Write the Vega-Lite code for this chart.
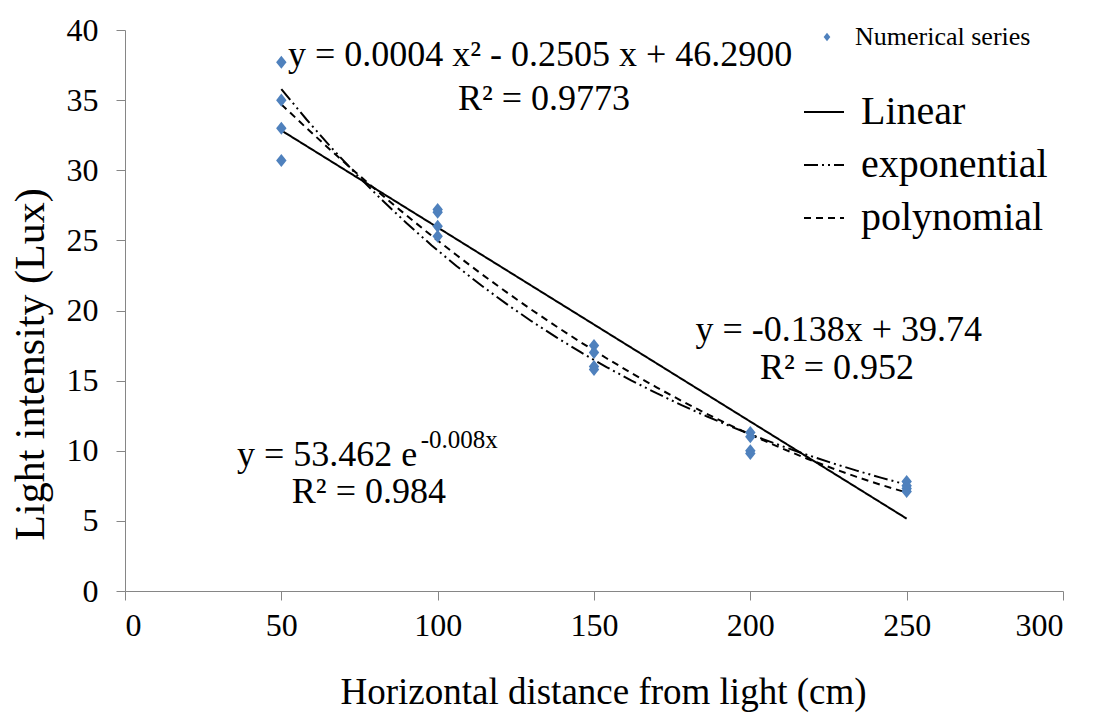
{
  "$schema": "https://vega.github.io/schema/vega-lite/v6.json",
  "width": 938,
  "height": 561,
  "autosize": {"type": "none"},
  "padding": {"left": 125, "top": 30, "right": 31, "bottom": 125},
  "background": "white",
  "config": {
    "view": {"stroke": null},
    "font": "Liberation Serif",
    "axis": {
      "grid": false,
      "domainColor": "#868686",
      "tickColor": "#868686",
      "tickSize": 9,
      "labelFont": "Liberation Serif",
      "labelFontSize": 32,
      "labelColor": "black",
      "titleFont": "Liberation Serif",
      "titleFontSize": 37,
      "titleFontWeight": "normal",
      "titleColor": "black"
    },
    "legend": {"labelFont": "Liberation Serif", "labelColor": "black", "padding": 0, "labelLimit": 0}
  },
  "datasets": {
    "obs": [
      {"dist": 50, "light": 37.7}, {"dist": 50, "light": 35.0}, {"dist": 50, "light": 33.0}, {"dist": 50, "light": 30.7},
      {"dist": 100, "light": 27.2}, {"dist": 100, "light": 27.0}, {"dist": 100, "light": 26.0}, {"dist": 100, "light": 25.3},
      {"dist": 150, "light": 17.5}, {"dist": 150, "light": 17.0}, {"dist": 150, "light": 16.0}, {"dist": 150, "light": 15.8},
      {"dist": 200, "light": 11.3}, {"dist": 200, "light": 11.0}, {"dist": 200, "light": 10.0}, {"dist": 200, "light": 9.8},
      {"dist": 250, "light": 7.8}, {"dist": 250, "light": 7.5}, {"dist": 250, "light": 7.3}, {"dist": 250, "light": 7.1}
    ],
    "note": [{"n": 1}]
  },
  "layer": [
    {
      "data": {"name": "obs"},
      "transform": [{"regression": "light", "on": "dist", "method": "linear"}],
      "mark": {"type": "line", "color": "black", "strokeWidth": 2},
      "encoding": {
        "x": {
          "field": "dist", "type": "quantitative",
          "scale": {"domain": [0, 300], "nice": false, "zero": false},
          "axis": {"values": [0, 50, 100, 150, 200, 250, 300], "labelPadding": 10,
                   "title": "Horizontal distance from light (cm)", "titleX": 478, "titleY": 101, "titleBaseline": "middle"}
        },
        "y": {
          "field": "light", "type": "quantitative",
          "scale": {"domain": [0, 40], "nice": false},
          "axis": {"values": [0, 5, 10, 15, 20, 25, 30, 35, 40], "labelPadding": 18,
                   "title": "Light intensity (Lux)", "titleFontSize": 42, "titleX": -95, "titleY": 334, "titleBaseline": "middle", "titleAlign": "center", "titleAngle": -90}
        },
        "strokeDash": {
          "datum": "Linear", "type": "nominal",
          "scale": {"domain": ["Linear", "exponential", "polynomial"], "range": [[1, 0], [14, 4, 2, 4, 2, 4], [7, 5]]},
          "legend": {"orient": "none", "legendX": 678, "legendY": 61, "title": null, "labelFontSize": 40,
                     "symbolType": "stroke", "symbolSize": 1600, "symbolStrokeWidth": 2, "symbolStrokeColor": "black",
                     "rowPadding": 12, "labelOffset": 16}
        }
      }
    },
    {
      "data": {"name": "obs"},
      "transform": [{"regression": "light", "on": "dist", "method": "exp"}],
      "mark": {"type": "line", "color": "black", "strokeWidth": 2},
      "encoding": {
        "x": {"field": "dist", "type": "quantitative"},
        "y": {"field": "light", "type": "quantitative"},
        "strokeDash": {"datum": "exponential", "type": "nominal"}
      }
    },
    {
      "data": {"name": "obs"},
      "transform": [{"regression": "light", "on": "dist", "method": "poly", "order": 2}],
      "mark": {"type": "line", "color": "black", "strokeWidth": 2},
      "encoding": {
        "x": {"field": "dist", "type": "quantitative"},
        "y": {"field": "light", "type": "quantitative"},
        "strokeDash": {"datum": "polynomial", "type": "nominal"}
      }
    },
    {
      "data": {"name": "obs"},
      "mark": {"type": "point", "filled": true, "opacity": 1, "size": 170, "color": "#4F81BD", "strokeWidth": 0},
      "encoding": {
        "x": {"field": "dist", "type": "quantitative"},
        "y": {"field": "light", "type": "quantitative"},
        "shape": {
          "datum": "Numerical series", "type": "nominal",
          "scale": {"domain": ["Numerical series"], "range": ["M-0.8,0L0,-1L0.8,0L0,1Z"]},
          "legend": {"orient": "none", "legendX": 689, "legendY": -6, "title": null, "labelFontSize": 26,
                     "symbolSize": 70, "symbolFillColor": "#4F81BD", "symbolStrokeColor": "#4F81BD", "symbolStrokeWidth": 0, "labelOffset": 15}
        }
      }
    },
    {
      "data": {"name": "note"},
      "mark": {"type": "text", "align": "left", "baseline": "middle", "fontSize": 36, "font": "Liberation Serif", "color": "black", "text": "y = 0.0004 x² - 0.2505 x + 46.2900"},
      "encoding": {"x": {"datum": 52.1, "type": "quantitative"}, "y": {"datum": 38.2, "type": "quantitative"}}
    },
    {
      "data": {"name": "note"},
      "mark": {"type": "text", "align": "center", "baseline": "middle", "fontSize": 36, "font": "Liberation Serif", "color": "black", "text": "R² = 0.9773"},
      "encoding": {"x": {"datum": 134, "type": "quantitative"}, "y": {"datum": 35.1, "type": "quantitative"}}
    },
    {
      "data": {"name": "note"},
      "mark": {"type": "text", "align": "center", "baseline": "middle", "fontSize": 36, "font": "Liberation Serif", "color": "black", "text": "y = -0.138x + 39.74"},
      "encoding": {"x": {"datum": 228.3, "type": "quantitative"}, "y": {"datum": 18.6, "type": "quantitative"}}
    },
    {
      "data": {"name": "note"},
      "mark": {"type": "text", "align": "center", "baseline": "middle", "fontSize": 36, "font": "Liberation Serif", "color": "black", "text": "R² = 0.952"},
      "encoding": {"x": {"datum": 227.7, "type": "quantitative"}, "y": {"datum": 15.9, "type": "quantitative"}}
    },
    {
      "data": {"name": "note"},
      "mark": {"type": "text", "align": "left", "baseline": "middle", "fontSize": 36, "font": "Liberation Serif", "color": "black", "text": "y = 53.462 e"},
      "encoding": {"x": {"datum": 35.8, "type": "quantitative"}, "y": {"datum": 9.7, "type": "quantitative"}}
    },
    {
      "data": {"name": "note"},
      "mark": {"type": "text", "align": "left", "baseline": "middle", "fontSize": 25, "font": "Liberation Serif", "color": "black", "text": "-0.008x"},
      "encoding": {"x": {"datum": 94.6, "type": "quantitative"}, "y": {"datum": 10.76, "type": "quantitative"}}
    },
    {
      "data": {"name": "note"},
      "mark": {"type": "text", "align": "center", "baseline": "middle", "fontSize": 36, "font": "Liberation Serif", "color": "black", "text": "R² = 0.984"},
      "encoding": {"x": {"datum": 78, "type": "quantitative"}, "y": {"datum": 7.06, "type": "quantitative"}}
    }
  ]
}
